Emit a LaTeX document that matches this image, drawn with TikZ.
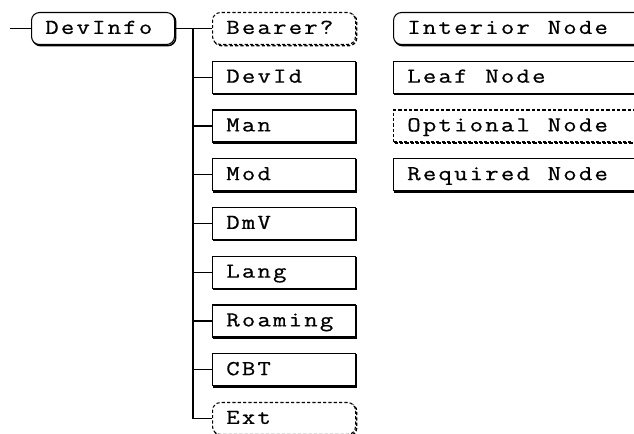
\documentclass[tikz,border=0pt]{standalone}
\usepackage{fontspec}
\usetikzlibrary{shadows}
\newfontfamily\monof[FakeBold=0.6, FakeStretch=1.22]{Latin Modern Mono}
\newcommand\boxfont{\monof\fontsize{16pt}{16pt}\selectfont}
\makeatletter
\newcommand\monostr[1]{\mono@aux#1\relax}
\def\mono@aux#1{\ifx#1\relax\else\makebox[11.7pt][c]{#1}\expandafter\mono@aux\fi}
\makeatother
\begin{document}
\begin{tikzpicture}[x=0.75pt,y=-0.75pt,
  conn/.style={line width=0.8pt, draw=black},
  boxbase/.style={draw=black, fill=white, line width=0.8pt, anchor=west,
    minimum height=24pt, inner xsep=9.5pt, inner ysep=0pt,
    text height=10pt, text depth=1.9pt,
    text width=88.25pt, align=left, font=\boxfont},
  shad/.style={general shadow={draw=black, fill=none, line width=1.1pt, shadow xshift=0.9pt, shadow yshift=-0.9pt}},
  shaddash/.style={general shadow={draw=black, fill=none, line width=1.1pt, dash pattern=on 2.4pt off 1.6pt, shadow xshift=0.9pt, shadow yshift=-0.9pt}},
  leafbox/.style={boxbase, shad},
  interiorbox/.style={boxbase, rounded corners=6pt, shad},
  optinterior/.style={boxbase, rounded corners=6pt, dash pattern=on 2.4pt off 1.6pt, shaddash},
  optleaf/.style={boxbase, dash pattern=on 2.4pt off 1.6pt, shaddash},
  legendwide/.style={text width=220pt}
]
\useasboundingbox[fill=white] (0,0) rectangle (634,433);
\begin{scope}
\clip (0,0) rectangle (634,433);
% tree
\node[interiorbox] (devinfo) at (31,28.5) {\monostr{DevInfo}};
\node[optinterior] (bearer) at (212,28.5) {\monostr{Bearer?}};
\node[leafbox] (devid) at (212,77.25) {\monostr{DevId}};
\node[leafbox] (man) at (212,126) {\monostr{Man}};
\node[leafbox] (mod) at (212,174.75) {\monostr{Mod}};
\node[leafbox] (dmv) at (212,223.5) {\monostr{DmV}};
\node[leafbox] (lang) at (212,272.25) {\monostr{Lang}};
\node[leafbox] (roaming) at (212,321) {\monostr{Roaming}};
\node[leafbox] (cbt) at (212,369.75) {\monostr{CBT}};
\node[optinterior] (ext) at (212,418.5) {\monostr{Ext}};
% legend
\node[interiorbox, legendwide] (linterior) at (393,28.5) {\monostr{Interior~Node}};
\node[leafbox, legendwide] (lleaf) at (393,77.25) {\monostr{Leaf~Node}};
\node[optleaf, legendwide] (lopt) at (393,126) {\monostr{Optional~Node}};
\node[leafbox, legendwide] (lreq) at (393,174.75) {\monostr{Required~Node}};
% connectors
\coordinate (start) at (10,28.5);
\coordinate (trunk) at (193,28.5);
\draw[conn] (start) -- (devinfo.west);
\draw[conn] (devinfo.east) -- (bearer.west);
\draw[conn] (trunk) -- (trunk |- ext.west) -- (ext.west);
\foreach \n in {devid,man,mod,dmv,lang,roaming,cbt}
  \draw[conn] (trunk |- \n.west) -- (\n.west);
\end{scope}
\end{tikzpicture}
\end{document}
